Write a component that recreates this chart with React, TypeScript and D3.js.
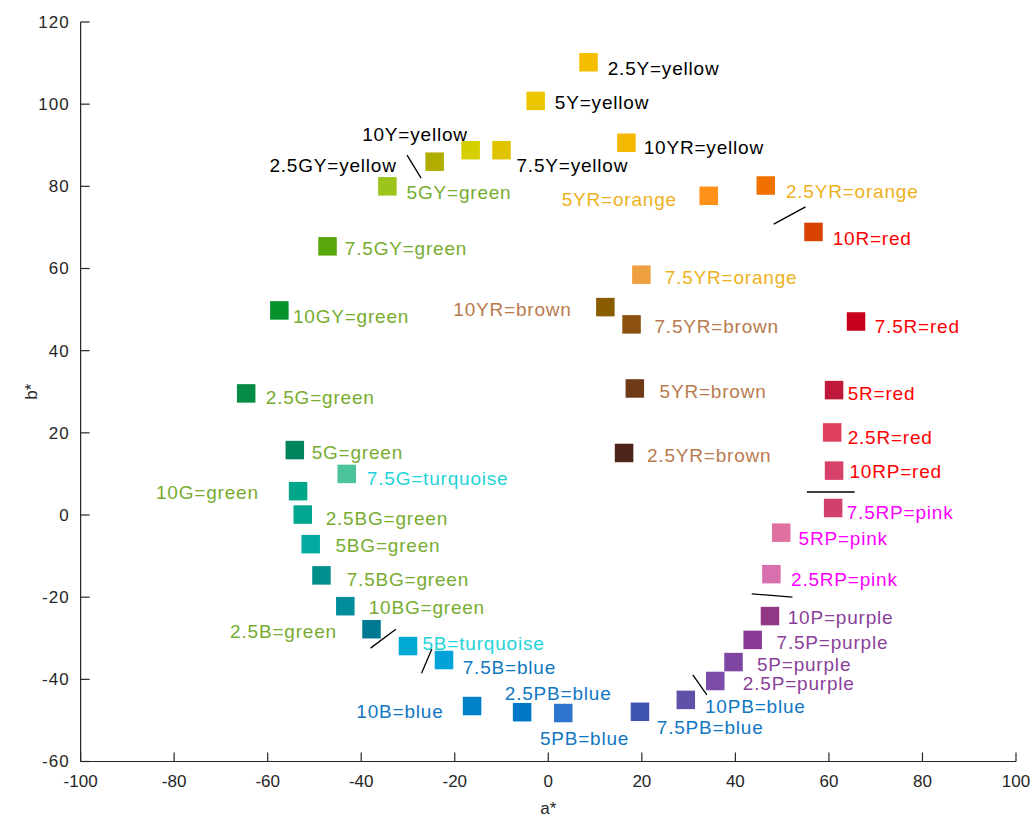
import * as d3 from "d3";

const WIDTH = 1031;
const HEIGHT = 819;
const MARGIN = { left: 80.6, right: 15, top: 22, bottom: 57.5 };

const xTicks = [-100, -80, -60, -40, -20, 0, 20, 40, 60, 80, 100];
const yTicks = [-60, -40, -20, 0, 20, 40, 60, 80, 100, 120];

// Munsell hue chips and their CIELAB a*, b* coordinates
const hues = [
  "2.5Y", "5Y", "10YR", "7.5Y", "10Y", "2.5GY", "5GY", "7.5GY", "10GY", "2.5G",
  "5G", "7.5G", "10G", "2.5BG", "5BG", "7.5BG", "10BG", "2.5B", "5B", "7.5B",
  "10B", "2.5PB", "5PB", "7.5PB", "10PB", "2.5P", "5P", "7.5P", "10P", "2.5RP",
  "5RP", "7.5RP", "10RP", "2.5R", "5R", "7.5R", "10R", "2.5YR", "5YR", "7.5YR",
  "10YR", "7.5YR", "5YR", "2.5YR",
];
const aValues = [
  8.6, -2.7, 16.7, -10.0, -16.6, -24.3, -34.4, -47.2, -57.5, -64.6,
  -54.2, -43.1, -53.5, -52.5, -50.8, -48.5, -43.4, -37.8, -30.0, -22.3,
  -16.3, -5.6, 3.2, 19.6, 29.4, 35.7, 39.6, 43.7, 47.4, 47.7,
  49.8, 60.9, 61.1, 60.7, 61.1, 65.8, 56.7, 46.5, 34.3, 19.9,
  12.2, 17.8, 18.5, 16.2,
];
const bValues = [
  110.2, 100.8, 90.6, 88.8, 88.8, 86.0, 80.0, 65.4, 49.8, 29.6,
  15.8, 10.0, 5.8, 0.1, -7.1, -14.7, -22.2, -27.8, -31.9, -35.3,
  -46.5, -48.0, -48.2, -47.9, -45.0, -40.4, -35.8, -30.4, -24.6, -14.4,
  -4.3, 1.7, 10.8, 20.1, 30.4, 47.1, 68.9, 80.2, 77.7, 58.5,
  50.6, 46.4, 30.8, 15.1,
];
const chipColors = [
  "#f5bf00", "#ecc700", "#f5b800", "#e0c400", "#d6cf00", "#b0ad00", "#9cc41a", "#58a80c", "#06922a", "#068c44",
  "#00845e", "#4cc39a", "#00a58a", "#00a690", "#00aaa0", "#008f8c", "#008c98", "#007a92", "#00a8d4", "#00a2d8",
  "#0080c8", "#0078c8", "#2c74cc", "#3e52b0", "#6050a8", "#7a4ba8", "#7f45a2", "#8a3a94", "#923784", "#d870b0",
  "#e070a0", "#d2406e", "#d8406c", "#e0405c", "#c0183a", "#c8001e", "#d84200", "#f07000", "#ff9018", "#eea040",
  "#8a5c00", "#8c5010", "#6e3a18", "#4c2418",
];
const colourNames = [
  "yellow", "yellow", "yellow", "yellow", "yellow", "yellow", "green", "green", "green", "green",
  "green", "turquoise", "green", "green", "green", "green", "green", "green", "turquoise", "blue",
  "blue", "blue", "blue", "blue", "blue", "purple", "purple", "purple", "purple", "pink",
  "pink", "pink", "red", "red", "red", "red", "red", "orange", "orange", "orange",
  "brown", "brown", "brown", "brown",
];

// where each text label sits, in a*, b* units
const labelA = [
  12.7, 1.4, 20.4, -6.8, -17.2, -32.4, -30.3, -43.5, -54.6, -60.4,
  -50.6, -38.8, -61.9, -47.6, -45.5, -43.1, -38.4, -45.2, -26.9, -18.3,
  -22.4, -9.3, -1.8, 23.2, 33.5, 41.6, 44.6, 48.8, 51.2, 51.9,
  53.5, 63.8, 64.4, 64.0, 64.0, 69.8, 60.8, 50.8, 27.5, 24.9,
  5.0, 22.7, 23.8, 21.1,
];
const labelB = [
  108.8, 100.5, 89.6, 85.0, 92.7, 85.2, 78.6, 64.8, 48.4, 28.7,
  15.3, 9.0, 5.4, -0.7, -7.5, -15.6, -22.4, -28.2, -31.2, -37.0,
  -47.7, -43.3, -54.3, -51.6, -46.5, -40.9, -36.3, -30.9, -24.8, -15.6,
  -5.8, 0.7, 10.7, 19.0, 29.7, 46.0, 67.4, 78.9, 76.9, 57.9,
  50.1, 46.0, 30.2, 14.4,
];
// indices of labels that end (rather than start) at their position
const rightAligned = [4, 5, 12, 17, 20, 38, 40];

// short leader lines [a1, b1, a2, b2]
const leaders: [number, number, number, number][] = [
  [-30.2, 87.6, -27.2, 82.0],
  [48.2, 70.8, 55.0, 75.0],
  [-38.0, -32.4, -32.6, -27.8],
  [-27.1, -38.5, -24.9, -32.6],
  [30.9, -38.9, 33.9, -43.8],
  [43.5, -19.2, 52.2, -20.0],
  [55.3, 5.6, 65.5, 5.6],
];

const TEXT_COLORS: Record<string, string> = {
  yellow: "#000000",
  green: "#77ac30",
  turquoise: "#1fd3d8",
  blue: "#1177c2",
  purple: "#8a3f9a",
  pink: "#ff00ff",
  red: "#ff0000",
  orange: "#edb120",
  brown: "#b97a4e",
};

const AXIS = "#262626";
const FONT = "'Liberation Sans', Arial, Helvetica, sans-serif";
const SQ = 18.5;
const TICK = 9;

export default function App() {
  const x = d3
    .scaleLinear()
    .domain([-100, 100])
    .range([MARGIN.left, WIDTH - MARGIN.right]);
  const y = d3
    .scaleLinear()
    .domain([-60, 120])
    .range([HEIGHT - MARGIN.bottom, MARGIN.top]);

  const [x0, x1] = x.range();
  const [y0, y1] = y.range();

  return (
    <div style={{ position: "absolute", left: 0, top: 0 }}>
      <svg width={WIDTH} height={HEIGHT} style={{ display: "block", background: "#fff" }}>
        {/* axes, ticks pointing inward */}
        <g stroke={AXIS} strokeWidth={1.2} fill="none">
          <line x1={x0} y1={y0} x2={x1} y2={y0} />
          <line x1={x0} y1={y0} x2={x0} y2={y1} />
          {xTicks.map((t) => (
            <line key={`xt${t}`} x1={x(t)} x2={x(t)} y1={y0} y2={y0 - TICK} />
          ))}
          {yTicks.map((t) => (
            <line key={`yt${t}`} x1={x0} x2={x0 + TICK} y1={y(t)} y2={y(t)} />
          ))}
        </g>
        <g fill={AXIS} fontFamily={FONT} fontSize={17}>
          {xTicks.map((t) => (
            <text key={`xl${t}`} x={x(t)} y={y0 + 20} dy="0.35em" textAnchor="middle">
              {t}
            </text>
          ))}
          {yTicks.map((t) => (
            <text
              key={`yl${t}`}
              x={x0 - 11}
              y={y(t)}
              dy="0.35em"
              textAnchor="end"
              letterSpacing={1}
            >
              {t}
            </text>
          ))}
          <text x={(x0 + x1) / 2} y={y0 + 47} dy="0.35em" textAnchor="middle">
            a*
          </text>
          <text
            transform={`translate(31,${(y0 + y1) / 2}) rotate(-90)`}
            dy="0.35em"
            textAnchor="middle"
          >
            b*
          </text>
        </g>

        {/* chips */}
        <g>
          {hues.map((h, i) => (
            <rect
              key={`c${i}`}
              x={x(aValues[i]) - SQ / 2}
              y={y(bValues[i]) - SQ / 2}
              width={SQ}
              height={SQ}
              fill={chipColors[i]}
            />
          ))}
        </g>

        {/* leader lines */}
        <g stroke="#000" strokeWidth={1.3}>
          {leaders.map((l, i) => (
            <line key={`l${i}`} x1={x(l[0])} y1={y(l[1])} x2={x(l[2])} y2={y(l[3])} />
          ))}
        </g>

        {/* labels */}
        <g fontFamily={FONT} fontSize={19} letterSpacing={0.8}>
          {hues.map((h, i) => (
            <text
              key={`t${i}`}
              x={x(labelA[i])}
              y={y(labelB[i])}
              dy="0.35em"
              textAnchor={rightAligned.includes(i) ? "end" : "start"}
              fill={TEXT_COLORS[colourNames[i]]}
            >
              {`${h}=${colourNames[i]}`}
            </text>
          ))}
        </g>
      </svg>
    </div>
  );
}
